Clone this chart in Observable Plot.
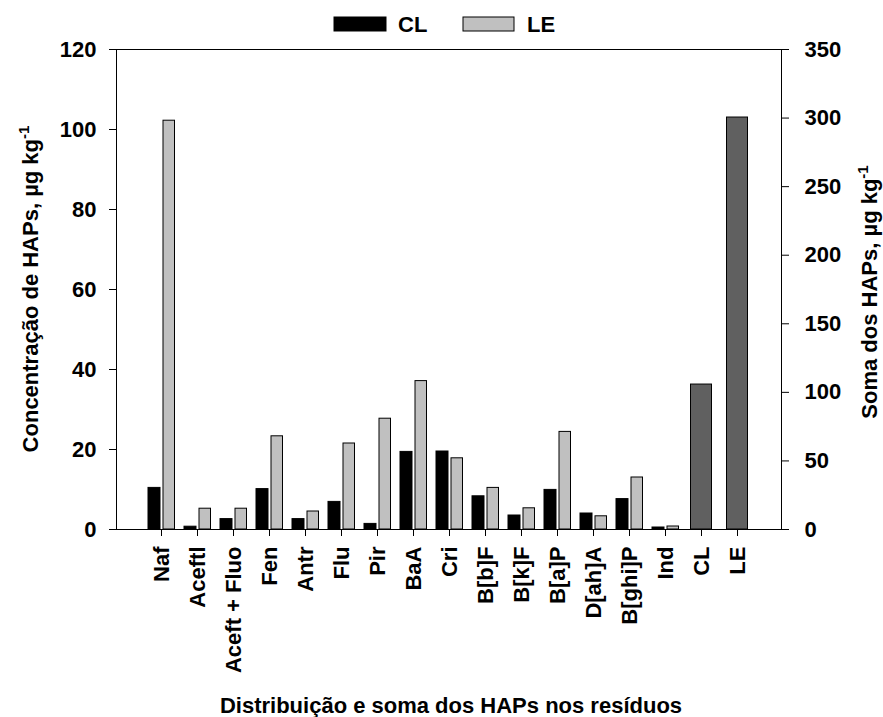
<!DOCTYPE html>
<html><head><meta charset="utf-8">
<script src="https://cdn.jsdelivr.net/npm/d3@7"></script>
<script src="https://cdn.jsdelivr.net/npm/@observablehq/plot@0.6"></script>
<style>
body{margin:0;background:#fff;}
svg text{font-family:"Liberation Sans",Arial,sans-serif;font-weight:bold;}
</style>
</head><body><div id="chart"></div>
<script>
const categories = ["Naf","Aceftl","Aceft + Fluo","Fen","Antr","Flu","Pir","BaA","Cri","B[b]F","B[k]F","B[a]P","D[ah]A","B[ghi]P","Ind","CL","LE"];
const compounds = ["Naf","Aceftl","Aceft + Fluo","Fen","Antr","Flu","Pir","BaA","Cri","B[b]F","B[k]F","B[a]P","D[ah]A","B[ghi]P","Ind"];
const clValues = [10.4,0.7,2.6,10.1,2.6,6.9,1.4,19.4,19.5,8.3,3.5,9.9,4.0,7.6,0.5];
const leValues = [102.2,5.2,5.2,23.3,4.5,21.5,27.7,37.1,17.8,10.4,5.3,24.4,3.3,13.0,0.75];
const sumLabels = ["CL","LE"];
const sumValues = [105.7,300.4];
const leftTicks = [0,20,40,60,80,100,120];
const rightTicks = [0,50,100,150,200,250,300,350];
const leftMax = 120, rightMax = 350;
const ratio = leftMax / rightMax;

const clData = compounds.map((c,i)=>({cat:c, v:clValues[i]}));
const leData = compounds.map((c,i)=>({cat:c, v:leValues[i]}));
const sumData = sumLabels.map((c,i)=>({cat:c, v:sumValues[i]*ratio}));

const plot = Plot.plot({
  width: 883, height: 717,
  marginLeft: 116, marginRight: 102, marginTop: 49, marginBottom: 188,
  style: {fontSize: "22px", fontFamily: "'Liberation Sans', Arial, sans-serif", fontWeight: "bold", background: "white", color: "black", overflow: "visible"},
  x: {domain: categories, paddingInner: 0, paddingOuter: 0.5, align: 0.5, label: null},
  y: {domain: [0, leftMax], label: null},
  marks: [
    Plot.barY(clData, {x: "cat", y: "v", fill: "black", stroke: "black", strokeWidth: 1, insetLeft: 5, insetRight: 19}),
    Plot.barY(leData, {x: "cat", y: "v", fill: "#c0c0c0", stroke: "black", strokeWidth: 1, insetLeft: 20, insetRight: 4.5}),
    Plot.barY(sumData, {x: "cat", y: "v", fill: "#606060", stroke: "black", strokeWidth: 1, insetLeft: 7.5, insetRight: 7.5}),
    Plot.axisY({anchor: "left", ticks: leftTicks, tickSize: 7, tickPadding: 13, label: null}),
    Plot.axisY({anchor: "right", ticks: rightTicks.map(v => v * ratio), tickFormat: d => String(Math.round(d / ratio)), tickSize: 7, tickPadding: 16, label: null}),
    Plot.axisX({anchor: "bottom", tickRotate: -90, tickSize: 7, tickPadding: 10, label: null}),
    Plot.frame({stroke: "black", strokeWidth: 1})
  ]
});
document.getElementById("chart").appendChild(plot);

const svg = d3.select(plot);
const g = svg.append("g").attr("fill", "black").style("font-size", "22px");
// legend
g.append("rect").attr("x", 334).attr("y", 17).attr("width", 52).attr("height", 14).attr("fill", "black").attr("stroke", "black");
g.append("text").attr("x", 398).attr("y", 32).attr("text-anchor", "start").text("CL");
g.append("rect").attr("x", 463).attr("y", 17).attr("width", 51).attr("height", 14).attr("fill", "#c0c0c0").attr("stroke", "black");
g.append("text").attr("x", 527).attr("y", 32).attr("text-anchor", "start").text("LE");
// left title
const lt = g.append("text").attr("transform", "translate(38,289) rotate(-90)").attr("text-anchor", "middle");
lt.append("tspan").text("Concentração de HAPs, µg kg");
lt.append("tspan").attr("dy", -9).style("font-size", "15px").text("-1");
// right title
const rt = g.append("text").attr("transform", "translate(877,292) rotate(-90)").attr("text-anchor", "middle");
rt.append("tspan").text("Soma dos HAPs, µg kg");
rt.append("tspan").attr("dy", -9).style("font-size", "15px").text("-1");
// bottom title
g.append("text").attr("x", 451).attr("y", 713).attr("text-anchor", "middle").text("Distribuição e soma dos HAPs nos resíduos");
</script>
</body></html>
